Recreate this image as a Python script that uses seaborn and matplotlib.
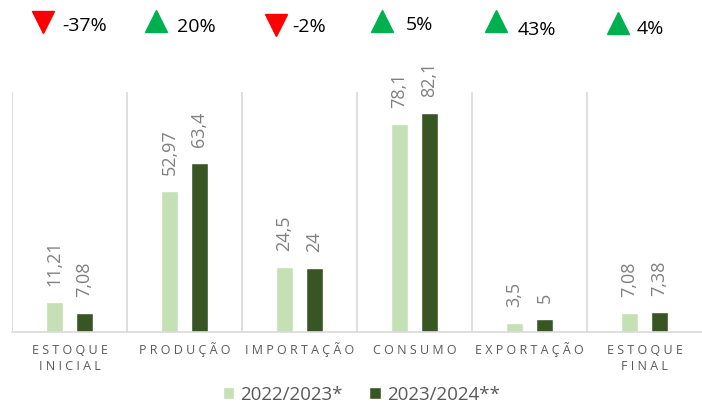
import pandas as pd
import matplotlib.pyplot as plt
import seaborn as sns

# data
categorias = ['ESTOQUE\nINICIAL', 'PRODUÇÃO', 'IMPORTAÇÃO', 'CONSUMO', 'EXPORTAÇÃO', 'ESTOQUE\nFINAL']
safra_2223 = [11.21, 52.97, 24.5, 78.1, 3.5, 7.08]
safra_2324 = [7.08, 63.4, 24, 82.1, 5, 7.38]
series = ['2022/2023*', '2023/2024**']
variacao = ['-37%', '20%', '-2%', '5%', '43%', '4%']

cores = ['#C5E0B4', '#375623']
cinza = '#595959'

df = pd.DataFrame({
    'categoria': categorias * 2,
    'valor': safra_2223 + safra_2324,
    'safra': [series[0]] * 6 + [series[1]] * 6,
})

sns.set_style('white')
plt.rcParams['font.family'] = ['Open Sans', 'DejaVu Sans']

fig = plt.figure(figsize=(7.02, 4.05), dpi=100)
ax = fig.add_axes([12 / 702, 73 / 405, 690 / 702, 240 / 405])

sns.barplot(data=df, x='categoria', y='valor', hue='safra', palette=cores,
            saturation=1, width=0.52, gap=0.46, ax=ax, legend=True)

ax.set_xlim(-0.5, 5.5)
ax.set_ylim(0, 90)
ax.set_xlabel('')
ax.set_ylabel('')
ax.set_yticks([])

# separadores verticais entre categorias
for x in range(6):
    ax.axvline(x - 0.5, color='#D9D9D9', lw=1.2, zorder=0)

for s in ['top', 'right', 'left']:
    ax.spines[s].set_visible(False)
ax.spines['bottom'].set_color('#D9D9D9')
ax.spines['bottom'].set_linewidth(1.2)

# rotulos com letras espaçadas, uma linha de cada vez para alinhar as bases
ax.set_xticks(range(6))
ax.set_xticklabels([])
ax.tick_params(axis='x', length=0)
base_linhas = [-22 / 240, -38 / 240]
for i, c in enumerate(categorias):
    for j, parte in enumerate(c.split('\n')):
        ax.text(i, base_linhas[j], ' '.join(parte), transform=ax.get_xaxis_transform(),
                ha='center', va='baseline', fontsize=9, color=cinza)

# rótulos de valor
for cont in ax.containers:
    labels = [f'{v:g}'.replace('.', ',') for v in cont.datavalues]
    for bar, lab in zip(cont, labels):
        ax.annotate(lab, (bar.get_x() + bar.get_width() / 2, bar.get_height()),
                    xytext=(0, 11.5), textcoords='offset points',
                    rotation=90, ha='center', va='bottom',
                    fontsize=13, color='#7F7F7F')

# legenda
leg = ax.legend(loc='center', bbox_to_anchor=(0.5065, -0.2625), ncol=2,
                frameon=False, fontsize=13.5, handlelength=0.6, handleheight=0.6,
                handletextpad=0.35, columnspacing=1.4, borderpad=0)
for t in leg.get_texts():
    t.set_color(cinza)

# variações no topo (posições em pixels)
tri_x = [43, 156, 276, 382, 496, 618]
tri_y = [22, 21, 25, 21, 21, 23]
txt_x = [62, 177, 292, 406, 518, 637]
txt_base = [31, 31.5, 32, 30, 35, 34]
for xp, yp, tx, tb, v in zip(tri_x, tri_y, txt_x, txt_base, variacao):
    neg = v.startswith('-')
    fig.add_artist(plt.Line2D([xp / 702], [1 - yp / 405], marker='v' if neg else '^',
                              markersize=16, color='#FF0000' if neg else '#00B050',
                              linestyle='', transform=fig.transFigure))
    fig.text(tx / 702, 1 - tb / 405, v, fontsize=14,
             va='baseline', ha='left', color='black')

fig.savefig('out.png', dpi=100)
